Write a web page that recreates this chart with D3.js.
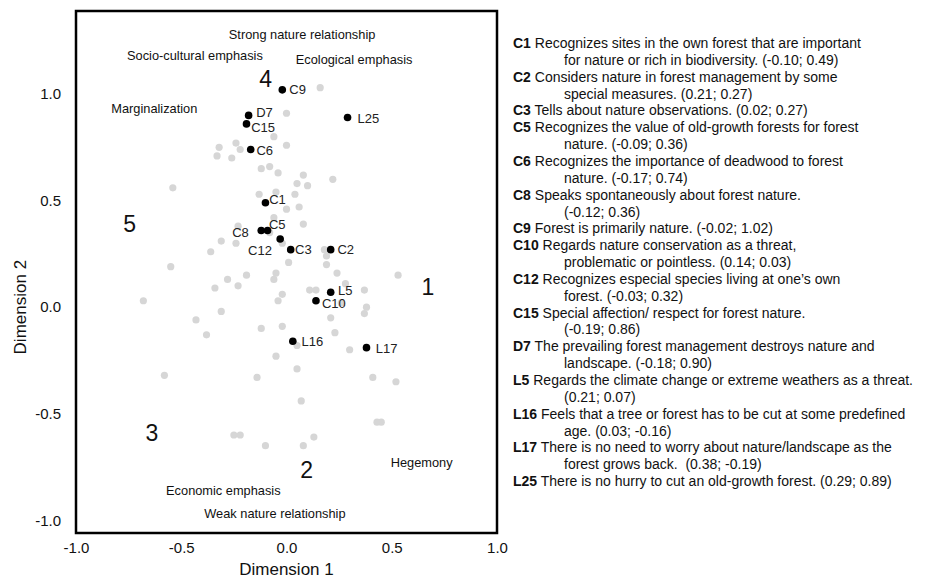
<!DOCTYPE html>
<html>
<head>
<meta charset="utf-8">
<script src="https://cdn.jsdelivr.net/npm/d3@7"></script>
<style>
  body { margin: 0; background: #fff; }
  svg { display: block; font-family: Arial, "Liberation Sans", sans-serif; }
</style>
</head>
<body>
<div id="chart"></div>
<script>
// grey (unlabelled) items, dimension 1 / dimension 2
const greyX = [0.16, 0.00, -0.06, -0.32, -0.24, -0.22, -0.33, -0.26, 0.00, -0.12,
  -0.08, -0.04, 0.08, 0.05, 0.10, 0.22, -0.54, -0.13, -0.05, 0.04,
  0.00, 0.06, -0.06, 0.08, -0.23, -0.08, -0.31, -0.24, -0.36, -0.02,
  0.18, 0.19, 0.01, 0.19, 0.24, -0.55, -0.19, -0.28, -0.05, -0.06,
  -0.34, -0.23, 0.53, 0.28, 0.11, 0.14, 0.37, -0.02, -0.04, -0.68,
  0.38, 0.37, 0.26, -0.31, 0.21, -0.43, -0.12, -0.02, 0.23, -0.38,
  0.05, 0.30, -0.05, 0.05, -0.58, -0.14, 0.41, 0.52, 0.07, 0.43,
  0.45, -0.25, -0.22, 0.13, -0.10, 0.08];
const greyY = [1.03, 0.91, 0.80, 0.75, 0.77, 0.74, 0.71, 0.70, 0.76, 0.65,
  0.66, 0.63, 0.62, 0.58, 0.57, 0.60, 0.56, 0.53, 0.54, 0.53,
  0.46, 0.47, 0.42, 0.39, 0.38, 0.35, 0.31, 0.30, 0.26, 0.30,
  0.27, 0.24, 0.21, 0.20, 0.16, 0.19, 0.15, 0.13, 0.16, 0.13,
  0.09, 0.10, 0.15, 0.11, 0.08, 0.08, 0.08, 0.06, 0.03, 0.03,
  0.00, -0.03, 0.02, -0.02, -0.05, -0.06, -0.10, -0.09, -0.12, -0.13,
  -0.18, -0.20, -0.23, -0.29, -0.32, -0.33, -0.33, -0.35, -0.44, -0.54,
  -0.54, -0.60, -0.60, -0.61, -0.65, -0.65];

// labelled items
const codes = ["C1", "C2", "C3", "C5", "C6", "C8", "C9", "C10", "C12", "C15", "D7", "L5", "L16", "L17", "L25"];
const dim1 = [-0.10, 0.21, 0.02, -0.09, -0.17, -0.12, -0.02, 0.14, -0.03, -0.19, -0.18, 0.21, 0.03, 0.38, 0.29];
const dim2 = [0.49, 0.27, 0.27, 0.36, 0.74, 0.36, 1.02, 0.03, 0.32, 0.86, 0.90, 0.07, -0.16, -0.19, 0.89];

// legend text, {xy} is replaced by the coordinates
const descriptions = [
  ["Recognizes sites in the own forest that are important", "for nature or rich in biodiversity. {xy}"],
  ["Considers nature in forest management by some", "special measures. {xy}"],
  ["Tells about nature observations. {xy}"],
  ["Recognizes the value of old-growth forests for forest", "nature. {xy}"],
  ["Recognizes the importance of deadwood to forest", "nature. {xy}"],
  ["Speaks spontaneously about forest nature.", "{xy}"],
  ["Forest is primarily nature. {xy}"],
  ["Regards nature conservation as a threat,", "problematic or pointless. {xy}"],
  ["Recognizes especial species living at one\u2019s own", "forest. {xy}"],
  ["Special affection/ respect for forest nature.", "{xy}"],
  ["The prevailing forest management destroys nature and", "landscape. {xy}"],
  ["Regards the climate change or extreme weathers as a threat.", "{xy}"],
  ["Feels that a tree or forest has to be cut at some predefined", "age. {xy}"],
  ["There is no need to worry about nature/landscape as the", "forest grows back.\u00a0 {xy}"],
  ["There is no hurry to cut an old-growth forest. {xy}"]
];

const xTicks = [-1.0, -0.5, 0.0, 0.5, 1.0];
const yTicks = [-1.0, -0.5, 0.0, 0.5, 1.0];

const annotations = [
  { text: "Strong nature relationship", x: 0.074, y: 1.28, big: false },
  { text: "Socio-cultural emphasis", x: -0.435, y: 1.181, big: false },
  { text: "Ecological emphasis", x: 0.321, y: 1.163, big: false },
  { text: "Marginalization", x: -0.628, y: 0.934, big: false },
  { text: "Hegemony", x: 0.642, y: -0.731, big: false },
  { text: "Economic emphasis", x: -0.30, y: -0.862, big: false },
  { text: "Weak nature relationship", x: -0.055, y: -0.968, big: false },
  { text: "4", x: -0.099, y: 1.069, big: true },
  { text: "5", x: -0.745, y: 0.392, big: true },
  { text: "1", x: 0.672, y: 0.095, big: true },
  { text: "3", x: -0.64, y: -0.591, big: true },
  { text: "2", x: 0.096, y: -0.765, big: true }
];

// where each point label sits relative to its dot
const labelPos = {
  C1: [3.7, -3.7, "start"], C2: [6.7, 0, "start"], C3: [4.3, 0, "start"],
  C5: [1.4, -6.4, "start"], C6: [5.7, 1, "start"], C8: [-12.4, 2, "end"],
  C9: [7, 0, "start"], C10: [6, 2.6, "start"], C12: [-8.3, 11.4, "end"],
  C15: [4.7, 3.4, "start"], D7: [7.6, -2.7, "start"], L5: [7.3, -2, "start"],
  L16: [8.7, 0.6, "start"], L17: [9.3, 1, "start"], L25: [10, 0.7, "start"]
};

const width = 927, height = 579;
const box = { left: 76, right: 497, top: 11, bottom: 533 };

const svg = d3.select("#chart").append("svg")
  .attr("width", width)
  .attr("height", height);

const x = d3.scaleLinear().domain([-1, 1]).range([box.left, box.right]);
const y = d3.scaleLinear().domain([-1.06, 1.39]).range([box.bottom, box.top]);

// axes without tick marks
const xAxis = svg.append("g")
  .attr("transform", `translate(0,${box.bottom})`)
  .call(d3.axisBottom(x).tickValues(xTicks).tickSize(0).tickPadding(9)
    .tickFormat(d => d.toFixed(1)));
xAxis.select(".domain").remove();
xAxis.selectAll("text").attr("font-size", 15).attr("fill", "#111").attr("font-family", null);

const yAxis = svg.append("g")
  .attr("transform", `translate(${box.left},0)`)
  .call(d3.axisLeft(y).tickValues(yTicks).tickSize(0).tickPadding(15)
    .tickFormat(d => d.toFixed(1)));
yAxis.select(".domain").remove();
yAxis.selectAll("text").attr("font-size", 15).attr("fill", "#111").attr("font-family", null);

svg.append("text")
  .attr("x", (box.left + box.right) / 2)
  .attr("y", 569)
  .attr("text-anchor", "middle")
  .attr("dominant-baseline", "central")
  .attr("font-size", 17)
  .attr("fill", "#111")
  .text("Dimension 1");

svg.append("text")
  .attr("transform", `translate(20,${y(0)}) rotate(-90)`)
  .attr("text-anchor", "middle")
  .attr("dominant-baseline", "central")
  .attr("font-size", 17)
  .attr("fill", "#111")
  .text("Dimension 2");

// grey points
svg.append("g").selectAll("circle")
  .data(greyX.map((v, i) => [v, greyY[i]]))
  .join("circle")
  .attr("cx", d => x(d[0]))
  .attr("cy", d => y(d[1]))
  .attr("r", 3.6)
  .attr("fill", "#d6d6d6");

// labelled points
const items = codes.map((c, i) => ({ code: c, x: dim1[i], y: dim2[i] }));

svg.append("g").selectAll("circle")
  .data(items)
  .join("circle")
  .attr("cx", d => x(d.x))
  .attr("cy", d => y(d.y))
  .attr("r", 3.8)
  .attr("fill", "#000");

svg.append("g").selectAll("text")
  .data(items)
  .join("text")
  .attr("x", d => x(d.x) + labelPos[d.code][0])
  .attr("y", d => y(d.y) + labelPos[d.code][1])
  .attr("text-anchor", d => labelPos[d.code][2])
  .attr("dominant-baseline", "central")
  .attr("font-size", 13)
  .attr("fill", "#222")
  .text(d => d.code);

// zone annotations
svg.append("g").selectAll("text")
  .data(annotations)
  .join("text")
  .attr("x", d => x(d.x))
  .attr("y", d => y(d.y))
  .attr("text-anchor", "middle")
  .attr("dominant-baseline", "central")
  .attr("font-size", d => d.big ? 23 : 12.8)
  .attr("fill", "#111")
  .text(d => d.text);

// frame
svg.append("rect")
  .attr("x", box.left)
  .attr("y", box.top)
  .attr("width", box.right - box.left)
  .attr("height", box.bottom - box.top)
  .attr("fill", "none")
  .attr("stroke", "#000")
  .attr("stroke-width", 2.5);

// legend on the right
const legend = svg.append("g")
  .attr("font-size", 14)
  .attr("fill", "#111");
const lineH = 16.85;
let row = 0;
items.forEach((d, i) => {
  const xy = `(${d.x.toFixed(2)}; ${d.y.toFixed(2)})`;
  descriptions[i].forEach((line, j) => {
    const t = legend.append("text")
      .attr("x", j === 0 ? 513 : 564)
      .attr("y", 48 + row * lineH);
    if (j === 0) {
      t.append("tspan").attr("font-weight", "bold").text(d.code);
      t.append("tspan").text(" " + line.replace("{xy}", xy));
    } else {
      t.text(line.replace("{xy}", xy));
    }
    row++;
  });
});
</script>
</body>
</html>
